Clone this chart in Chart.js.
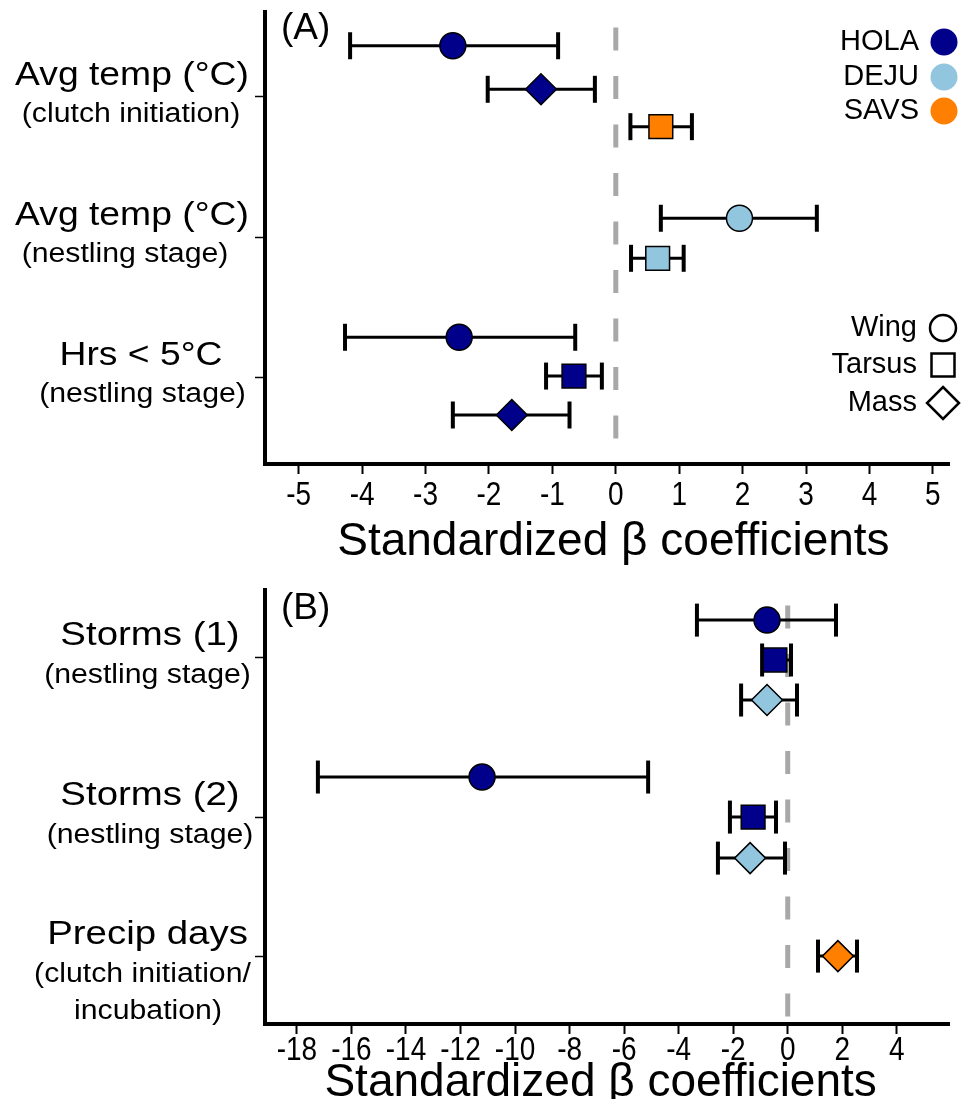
<!DOCTYPE html>
<html><head><meta charset="utf-8">
<script src="https://cdn.jsdelivr.net/npm/chart.js@4.4.1/dist/chart.umd.min.js"></script>
<style>
html,body{margin:0;padding:0;background:#fff;}
canvas{position:absolute;left:0;}
#cA{top:0;}
#cB{top:575px;}
</style></head><body>
<canvas id="cA" width="963" height="575"></canvas>
<canvas id="cB" width="963" height="524"></canvas>
<script>
// ---------- Panel A data ----------
const aCategories = [["Avg temp (°C)", "(clutch initiation)"], ["Avg temp (°C)", "(nestling stage)"], ["Hrs < 5°C", "(nestling stage)"]];
const aCatPos = [1, 2, 3];
const aRowY = [0.634, 0.945, 1.212, 1.866, 2.152, 2.716, 2.993, 3.271];
const aSpecies = ["HOLA", "HOLA", "SAVS", "DEJU", "DEJU", "HOLA", "HOLA", "HOLA"];
const aTrait = ["Wing", "Mass", "Tarsus", "Wing", "Tarsus", "Wing", "Tarsus", "Mass"];
const aBeta = [-2.57, -1.18, 0.71, 1.95, 0.66, -2.47, -0.66, -1.64];
const aLower = [-4.19, -2.02, 0.23, 0.71, 0.24, -4.27, -1.10, -2.57];
const aUpper = [-0.91, -0.33, 1.20, 3.17, 1.07, -0.64, -0.22, -0.73];
const aTicks = [-5, -4, -3, -2, -1, 0, 1, 2, 3, 4, 5];

// ---------- Panel B data ----------
const bCategories = [["Storms (1)", "(nestling stage)"], ["Storms (2)", "(nestling stage)"], ["Precip days", "(clutch initiation/", "incubation)"]];
const bCatPos = [1, 2.143, 3.136];
const bRowY = [0.736, 1.021, 1.307, 1.857, 2.143, 2.436, 3.136];
const bSpecies = ["HOLA", "HOLA", "DEJU", "HOLA", "HOLA", "DEJU", "SAVS"];
const bTrait = ["Wing", "Tarsus", "Mass", "Wing", "Tarsus", "Mass", "Mass"];
const bBeta = [-0.76, -0.47, -0.76, -11.21, -1.27, -1.38, 1.84];
const bLower = [-3.33, -0.94, -1.71, -17.23, -2.12, -2.56, 1.11];
const bUpper = [1.77, 0.12, 0.34, -5.12, -0.43, -0.10, 2.54];
const bTicks = [-18, -16, -14, -12, -10, -8, -6, -4, -2, 0, 2, 4];

const speciesNames = ["HOLA", "DEJU", "SAVS"];
const traitNames = ["Wing", "Tarsus", "Mass"];

// ---------- styles ----------
const FONT = "'Liberation Sans', Arial, sans-serif";
const COLORS = {HOLA: "#00008B", DEJU: "#92C5DE", SAVS: "#FF8000"};
const SHAPES = {Wing: "circle", Tarsus: "rect", Mass: "rectRot"};
const SIZES = {Wing: 13, Tarsus: 16.8, Mass: 15.5};
const TICK_LEN = 10, TICK_STRETCH = 1.2;

function stretchText(ctx, text, x, y, size, sx, align) {
  ctx.save();
  ctx.translate(x, y);
  ctx.scale(sx, 1);
  ctx.font = size + "px " + FONT;
  ctx.textAlign = align;
  ctx.textBaseline = "middle";
  ctx.fillStyle = "#000";
  ctx.fillText(text, 0, 0);
  ctx.restore();
}

function drawShape(ctx, shape, x, y, fill) {
  ctx.save();
  ctx.beginPath();
  if (shape === "Wing") {
    ctx.arc(x, y, 13, 0, Math.PI * 2);
  } else if (shape === "Tarsus") {
    ctx.rect(x - 11.5, y - 11.5, 23, 23);
  } else {
    ctx.moveTo(x, y - 16); ctx.lineTo(x + 16, y); ctx.lineTo(x, y + 16); ctx.lineTo(x - 16, y); ctx.closePath();
  }
  ctx.fillStyle = fill;
  ctx.fill();
  ctx.lineWidth = 2.5;
  ctx.strokeStyle = "#000";
  ctx.stroke();
  ctx.restore();
}

// tick labels of the x scale are drawn by Chart.js, only stretched vertically (condensed look)
const tallTicks = {
  id: "tallTicks",
  beforeDraw(chart) {
    const sc = chart.scales.x;
    if (sc._tallPatched) return;
    const orig = sc.drawLabels;
    sc.drawLabels = function (area) {
      const ctx = this.ctx;
      const y0 = this.top + TICK_LEN + (this.options.ticks.padding || 0);
      ctx.save();
      ctx.translate(0, y0); ctx.scale(1, TICK_STRETCH); ctx.translate(0, -y0);
      orig.call(this, area);
      ctx.restore();
    };
    sc._tallPatched = true;
  }
};

const annotPlugin = {
  id: "annot",
  afterDraw(chart, args, o) {
    const ctx = chart.ctx, ys = chart.scales.y;
    o.categories.forEach((lines, i) => {
      const py = ys.getPixelForValue(o.catPos[i]);
      lines.forEach((t, j) => {
        const size = j === 0 ? o.mainSize : o.subSize;
        const dy = j === 0 ? -21 : 18 + (j - 1) * 37;
        stretchText(ctx, t, o.labelX[i][j], py + dy, size, j === 0 ? 1.13 : 1.12, "center");
      });
    });
    ctx.save();
    ctx.font = "37px " + FONT;
    ctx.textAlign = "left"; ctx.textBaseline = "middle"; ctx.fillStyle = "#000";
    ctx.fillText(o.panel, chart.chartArea.left + 16, chart.chartArea.top + o.panelDy);
    ctx.restore();
    if (o.legend) {
      const sy = [42, 77, 111];
      speciesNames.forEach((s, i) => {
        stretchText(ctx, s, 919, sy[i], 29, 1, "right");
        ctx.save(); ctx.beginPath(); ctx.arc(944, sy[i], 13.5, 0, Math.PI * 2);
        ctx.fillStyle = COLORS[s]; ctx.fill(); ctx.restore();
      });
      const ty = [328, 365, 403];
      traitNames.forEach((t, i) => {
        stretchText(ctx, t, 917, ty[i], 29, 1, "right");
        drawShape(ctx, t, 943, ty[i], "#fff");
      });
    }
  }
};

function makePanel(id, d) {
  const datasets = [];
  datasets.push({
    data: [{x: 0, y: d.yMin}, {x: 0, y: d.yMax}],
    showLine: true, borderColor: "#A8A8A8", borderWidth: 5,
    borderDash: [23, 25.5], borderDashOffset: d.dashOffset,
    pointRadius: 0, order: 10
  });
  d.rowY.forEach((y, i) => {
    datasets.push({
      data: [{x: d.lower[i], y: y}, {x: d.upper[i], y: y}],
      showLine: true, borderColor: "#000", borderWidth: 3,
      pointStyle: "line", pointRotation: 90, pointRadius: d.capR,
      pointBorderWidth: 4, pointBorderColor: "#000", pointBackgroundColor: "#000",
      order: 5
    });
  });
  datasets.push({
    data: d.rowY.map((y, i) => ({x: d.beta[i], y: y})),
    pointStyle: d.trait.map(t => SHAPES[t]),
    pointRadius: d.trait.map(t => SIZES[t]),
    pointBackgroundColor: d.species.map(s => COLORS[s]),
    pointBorderColor: "#000", pointBorderWidth: 1.5,
    order: 0
  });
  return new Chart(document.getElementById(id), {
    type: "scatter",
    data: {datasets},
    plugins: [tallTicks, annotPlugin],
    options: {
      responsive: false, animation: false,
      layout: {autoPadding: false, padding: {left: 0, right: 14, top: d.padTop, bottom: 0}},
      plugins: {legend: {display: false}, tooltip: {enabled: false},
        annot: {categories: d.categories, catPos: d.catPos, labelX: d.labelX, mainSize: d.mainSize, subSize: 27,
          panel: d.panel, panelDy: d.panelDy, legend: d.legend}},
      scales: {
        x: {
          type: "linear", min: d.xMin, max: d.xMax,
          afterBuildTicks: s => { s.ticks = d.xTicks.map(v => ({value: v})); },
          afterFit: s => { s.height = d.xHeight; },
          ticks: {color: "#000", font: {size: 28, family: FONT}, padding: d.tickPad, maxRotation: 0, autoSkip: false},
          grid: {drawOnChartArea: false, drawTicks: true, tickLength: TICK_LEN, tickWidth: 2, tickColor: "#000"},
          border: {display: true, color: "#000", width: 4},
          title: {display: true, text: d.xTitle, color: "#000", font: {size: 46, family: FONT, lineHeight: 1},
            padding: {top: 0, bottom: d.titlePad}}
        },
        y: {
          type: "linear", reverse: true, min: d.yMin, max: d.yMax,
          afterBuildTicks: s => { s.ticks = d.catPos.map(v => ({value: v})); },
          afterFit: s => { s.width = 265; },
          ticks: {display: false},
          grid: {drawOnChartArea: false, drawTicks: true, tickLength: 10, tickWidth: 1.5, tickColor: "#000"},
          border: {display: true, color: "#000", width: 4}
        }
      }
    }
  });
}

makePanel("cA", {
  categories: aCategories, catPos: aCatPos, rowY: aRowY, species: aSpecies, trait: aTrait,
  beta: aBeta, lower: aLower, upper: aUpper, xTicks: aTicks,
  xMin: -5.532, xMax: 5.254, yMin: 0.393, yMax: 3.621,
  padTop: 12, xHeight: 111, titlePad: 10, tickPad: 2, xTitle: " Standardized β coefficients",
  labelX: [[132, 131], [132, 125], [141, 142.5]], mainSize: 33, panel: "(A)", panelDy: 17, legend: true,
  capR: 13.5, dashOffset: 33
});
makePanel("cB", {
  categories: bCategories, catPos: bCatPos, rowY: bRowY, species: bSpecies, trait: bTrait,
  beta: bBeta, lower: bLower, upper: bUpper, xTicks: bTicks,
  xMin: -19.17, xMax: 5.914, yMin: 0.521, yMax: 3.621,
  padTop: 15, xHeight: 75, titlePad: -7, tickPad: -3, xTitle: "Standardized β coefficients ",
  labelX: [[150, 147.5], [150, 150], [147.5, 142.5, 148]], mainSize: 34, panel: "(B)", panelDy: 19, legend: false,
  capR: 16.5, dashOffset: 33
});
</script>
</body></html>
